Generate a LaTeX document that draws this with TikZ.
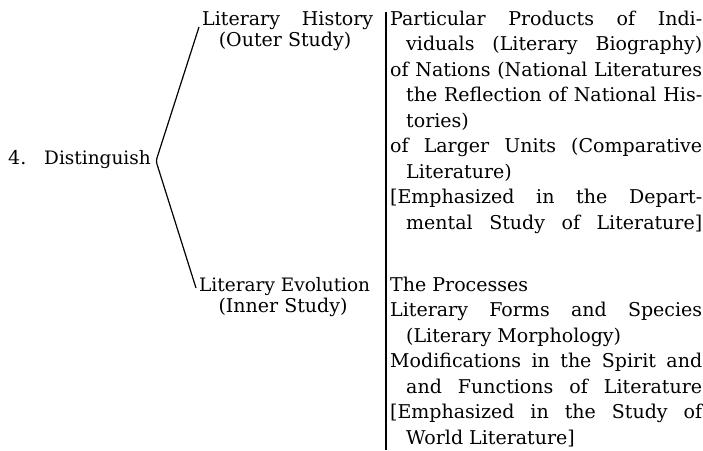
\documentclass[tikz,border=0pt]{standalone}
\usepackage{fontspec}
\setmainfont{DejaVu Serif}
\newlength\colw
\setlength\colw{312pt}
\newcommand\fullline[1]{\makebox[\colw][s]{#1}}
\newcommand\indline[1]{\hspace*{16pt}\makebox[\dimexpr\colw-16pt\relax][s]{#1}}
\newcommand\indshort[1]{\hspace*{16pt}#1}

\begin{document}
\begin{tikzpicture}[x=1pt,y=-1pt,
  txt/.style={inner sep=0pt,font=\fontsize{19}{25.5}\selectfont},
  col/.style={txt,anchor=north west,text width=\colw,align=justify},
  branch/.style={line width=1.2pt}]
\useasboundingbox (0,0) rectangle (703,450);
\path (8,164) node[txt,anchor=base west] (num) {4.};
\path (44,164) node[txt,anchor=base west,font=\fontsize{18.5}{25.5}\selectfont] (dist) {Distinguish};
\coordinate (apex) at (156,161);

\path (202,25) node[txt,anchor=base west] (hist) {\makebox[171pt][s]{Literary History}};
\path (285,46) node[txt,anchor=base] (outer) {(Outer Study)};
\path (199,291) node[txt,anchor=base west,font=\fontsize{18.5}{25.5}\selectfont] (evol) {Literary Evolution};
\path (283,312) node[txt,anchor=base] (inner) {(Inner Study)};

\draw[branch,rounded corners=3pt] ([shift={(-3,2)}]hist.base west) -- (apex) -- ([shift={(-3,-3)}]evol.base west);
\draw[branch] (386,12) -- (386,450);

\path (390,10.6) node[col] (histbody) {%
\fullline{Particular Products of Indi-}\\
\indline{viduals (Literary Biography)}\\
\fullline{of Nations (National Literatures}\\
\indline{the Reflection of National His-}\\
\indshort{tories)}\\
\fullline{of Larger Units (Comparative}\\
\indshort{Literature)}\\
\fullline{[Emphasized in the Depart-}\\
\indline{mental Study of Literature]}};
\path (390,276.6) node[col] (evolbody) {%
The Processes\\
\fullline{Literary Forms and Species}\\
\indshort{(Literary Morphology)}\\
\fullline{Modifications in the Spirit and}\\
\indline{and Functions of Literature}\\
\fullline{[Emphasized in the Study of}\\
\indshort{World Literature]}};
\end{tikzpicture}
\end{document}
